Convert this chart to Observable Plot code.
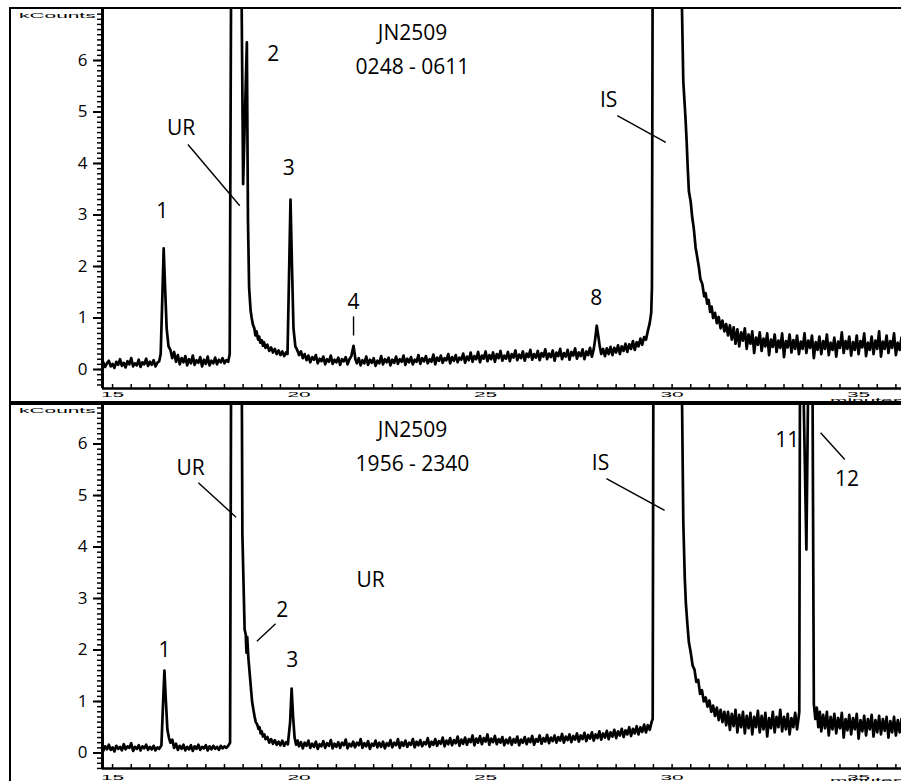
<!DOCTYPE html>
<html><head><meta charset="utf-8">
<script src="https://cdn.jsdelivr.net/npm/d3@7"></script>
<script src="https://cdn.jsdelivr.net/npm/@observablehq/plot@0.6"></script>
<style>
html,body{margin:0;padding:0;background:#fff;overflow:hidden}
#wrap{position:relative;width:901px;height:781px;overflow:hidden;background:#fff}
.panel{position:absolute;left:0}
.box{position:absolute;left:9px;width:900px;border:2px solid #000;box-sizing:border-box;pointer-events:none;z-index:2}
.sq{position:absolute;font-family:"Liberation Sans",Arial,sans-serif;font-size:12px;line-height:12px;white-space:nowrap;transform-origin:0 50%;transform:scale(1.74,0.62);z-index:3;color:#000}
</style></head>
<body>
<div id="wrap">
  <div class="panel" id="top" style="top:0"></div>
  <div class="panel" id="bot" style="top:403px"></div>
  <div class="box" style="top:7px;height:396px"></div>
  <div class="box" style="top:403px;height:400px"></div>
  <span class="sq" style="left:19px;top:10px">kCounts</span>
  <span class="sq" style="left:830px;top:395px">minutes</span>
  <span class="sq" style="left:19px;top:405px">kCounts</span>
  <span class="sq" style="left:830px;top:775px">minutes</span>
</div>
<script>
// ---- axis ticks ----
const xMajor = [15, 20, 25, 30, 35];
const xMinor = [15,15.5,16,16.5,17,17.5,18,18.5,19,19.5,20,20.5,21,21.5,22,22.5,23,23.5,24,24.5,25,25.5,26,26.5,27,27.5,28,28.5,29,29.5,30,30.5,31,31.5,32,32.5,33,33.5,34,34.5,35,35.5,36];
const yMajor = [0, 1, 2, 3, 4, 5, 6];

// ---- chromatogram JN2509 0248 - 0611 : [minutes, kCounts] ----
const topTrace = [
[14.70,0.08],[14.75,0.14],[14.80,0.05],[14.85,0.12],[14.90,0.17],[14.95,0.06],[15.00,0.11],[15.05,0.03],[15.10,0.15],[15.15,0.09],[15.20,0.2],[15.25,0.07],[15.30,0.13],[15.35,0.04],[15.40,0.16],[15.45,0.1],[15.50,0.22],[15.55,0.06],[15.60,0.12],[15.65,0.08],[15.70,0.19],[15.75,0.05],[15.80,0.14],[15.85,0.1],[15.90,0.21],[15.95,0.07],[16.00,0.15],[16.05,0.09],[16.10,0.18],[16.15,0.06],[16.20,0.13],[16.25,0.16],
[16.29,0.3],[16.33,1.3],[16.37,2.35],[16.41,1.55],[16.45,0.8],[16.5,0.45],[16.55,0.38],[16.6,0.22],[16.65,0.34],[16.7,0.15],[16.75,0.28],
[16.80,0.1],[16.85,0.22],[16.90,0.14],[16.95,0.26],[17.00,0.08],[17.05,0.2],[17.10,0.12],[17.15,0.27],[17.20,0.09],[17.25,0.18],[17.30,0.13],[17.35,0.24],[17.40,0.06],[17.45,0.19],[17.50,0.11],[17.55,0.25],[17.60,0.08],[17.65,0.17],[17.70,0.12],[17.75,0.23],[17.80,0.1],[17.85,0.19],[17.90,0.14],[17.95,0.22],[18.00,0.12],[18.05,0.18],[18.10,0.15],[18.14,0.3],
[18.18,8],[18.45,8],[18.5,3.6],[18.6,6.35],[18.63,2.9],[18.66,1.6],[18.7,1.15],[18.73,1.0],[18.76,0.88],[18.8,0.8],[18.83,0.66],[18.86,0.74],[18.9,0.58],[18.93,0.64],[18.96,0.52],[19.0,0.57],[19.03,0.46],[19.06,0.53],[19.1,0.42],[19.15,0.48],[19.2,0.36],[19.25,0.43],[19.3,0.33],[19.35,0.4],[19.4,0.3],[19.45,0.37],[19.5,0.28],[19.55,0.35],[19.6,0.26],[19.65,0.33],[19.69,0.3],
[19.73,1.8],[19.77,3.3],[19.81,2.0],[19.85,0.8],[19.9,0.45],[19.95,0.38],
[20.00,0.28],[20.05,0.35],[20.10,0.22],[20.15,0.3],[20.20,0.18],[20.25,0.27],[20.30,0.14],[20.35,0.24],[20.40,0.19],[20.45,0.28],[20.50,0.12],[20.55,0.21],[20.60,0.16],[20.65,0.25],[20.70,0.1],[20.75,0.2],[20.80,0.15],[20.85,0.27],[20.90,0.11],[20.95,0.19],[21.00,0.14],[21.05,0.23],[21.10,0.09],[21.15,0.2],[21.20,0.16],[21.25,0.24],[21.30,0.1],[21.35,0.2],[21.40,0.26],[21.46,0.46],[21.51,0.2],[21.55,0.12],
[21.60,0.22],[21.65,0.08],[21.70,0.18],[21.75,0.12],[21.80,0.25],[21.85,0.09],[21.90,0.19],[21.95,0.13],[22.00,0.22],[22.05,0.07],[22.10,0.17],[22.15,0.12],[22.20,0.26],[22.25,0.1],[22.30,0.2],[22.35,0.14],[22.40,0.23],[22.45,0.08],[22.50,0.19],[22.55,0.13],[22.60,0.25],[22.65,0.11],[22.70,0.2],[22.75,0.15],[22.80,0.27],[22.85,0.09],[22.90,0.21],[22.95,0.14],
[23.00,0.24],[23.05,0.1],[23.10,0.19],[23.15,0.15],[23.20,0.28],[23.25,0.11],[23.30,0.22],[23.35,0.16],[23.40,0.26],[23.45,0.12],[23.50,0.2],[23.55,0.15],[23.60,0.29],[23.65,0.1],[23.70,0.23],[23.75,0.17],[23.80,0.27],[23.85,0.13],[23.90,0.22],[23.95,0.18],
[24.00,0.3],[24.05,0.12],[24.10,0.24],[24.15,0.17],[24.20,0.28],[24.25,0.14],[24.30,0.23],[24.35,0.19],[24.40,0.31],[24.45,0.13],[24.50,0.25],[24.55,0.18],[24.60,0.33],[24.65,0.15],[24.70,0.26],[24.75,0.2],[24.80,0.34],[24.85,0.14],[24.90,0.27],[24.95,0.21],
[25.00,0.35],[25.05,0.16],[25.10,0.28],[25.15,0.2],[25.20,0.33],[25.25,0.15],[25.30,0.3],[25.35,0.22],[25.40,0.36],[25.45,0.17],[25.50,0.27],[25.55,0.21],[25.60,0.34],[25.65,0.16],[25.70,0.3],[25.75,0.23],[25.80,0.37],[25.85,0.18],[25.90,0.29],[25.95,0.22],
[26.00,0.35],[26.05,0.17],[26.10,0.31],[26.15,0.24],[26.20,0.38],[26.25,0.19],[26.30,0.3],[26.35,0.23],[26.40,0.36],[26.45,0.18],[26.50,0.32],[26.55,0.25],[26.60,0.39],[26.65,0.2],[26.70,0.31],[26.75,0.24],[26.80,0.37],[26.85,0.17],[26.90,0.33],[26.95,0.26],
[27.00,0.4],[27.05,0.2],[27.10,0.32],[27.15,0.25],[27.20,0.38],[27.25,0.19],[27.30,0.34],[27.35,0.27],[27.40,0.41],[27.45,0.21],[27.50,0.33],[27.55,0.26],[27.60,0.39],[27.65,0.2],[27.70,0.35],[27.75,0.28],[27.80,0.42],[27.85,0.25],[27.90,0.4],
[27.94,0.6],[27.98,0.85],[28.02,0.66],[28.06,0.45],[28.10,0.3],[28.15,0.4],[28.20,0.26],[28.25,0.41],[28.30,0.3],[28.35,0.44],[28.40,0.28],[28.45,0.42],[28.50,0.33],[28.55,0.47],[28.60,0.3],[28.65,0.45],[28.70,0.36],[28.75,0.5],[28.80,0.34],[28.85,0.49],[28.90,0.4],[28.95,0.55],
[29.00,0.38],[29.05,0.53],[29.10,0.45],[29.15,0.6],[29.20,0.48],[29.25,0.63],[29.30,0.58],[29.35,0.75],[29.40,0.9],[29.44,1.1],[29.46,1.6],
[29.48,8],[30.24,8],[30.3,5.6],[30.36,4.87],[30.39,4.43],[30.42,3.9],[30.45,3.46],[30.5,3.25],[30.54,2.95],[30.58,2.75],[30.63,2.37],[30.67,2.2],[30.72,1.98],[30.76,1.75],[30.81,1.66],[30.86,1.42],[30.9,1.48],[30.94,1.28],[30.98,1.35],
[31.02,1.12],[31.06,1.22],[31.1,1.0],[31.15,1.1],[31.2,0.9],[31.25,1.02],[31.3,0.8],[31.35,0.95],[31.4,0.74],[31.45,0.88],[31.5,0.66],[31.55,0.86],
[31.6,0.58],[31.65,0.82],[31.7,0.5],[31.75,0.78],[31.8,0.45],[31.85,0.72],[31.9,0.56],[31.95,0.8],
[32.0,0.4],[32.05,0.68],[32.1,0.5],[32.15,0.74],[32.2,0.32],[32.25,0.62],[32.3,0.48],[32.35,0.72],[32.4,0.36],[32.45,0.6],[32.5,0.45],[32.55,0.7],[32.6,0.28],[32.65,0.58],[32.7,0.44],[32.75,0.68],[32.8,0.34],[32.85,0.56],[32.9,0.42],[32.95,0.7],
[33.0,0.24],[33.05,0.55],[33.1,0.43],[33.15,0.68],[33.2,0.33],[33.25,0.57],[33.3,0.4],[33.35,0.66],[33.4,0.3],[33.45,0.54],[33.5,0.4],[33.55,0.7],[33.6,0.32],[33.65,0.56],[33.7,0.42],[33.75,0.66],[33.8,0.22],[33.85,0.53],[33.9,0.38],[33.95,0.64],
[34.0,0.3],[34.05,0.55],[34.1,0.4],[34.15,0.68],[34.2,0.28],[34.25,0.52],[34.3,0.38],[34.35,0.62],[34.4,0.25],[34.45,0.54],[34.5,0.42],[34.55,0.72],[34.6,0.32],[34.65,0.55],[34.7,0.4],[34.75,0.64],[34.8,0.27],[34.85,0.53],[34.9,0.38],[34.95,0.66],
[35.0,0.3],[35.05,0.55],[35.1,0.43],[35.15,0.7],[35.2,0.26],[35.25,0.52],[35.3,0.38],[35.35,0.64],[35.4,0.3],[35.45,0.56],[35.5,0.4],[35.55,0.74],[35.6,0.25],[35.65,0.54],[35.7,0.4],[35.75,0.66],[35.8,0.32],[35.85,0.55],[35.9,0.42],[35.95,0.7],
[36.0,0.28],[36.05,0.52],[36.1,0.38],[36.15,0.62],[36.2,0.45]
];

// ---- chromatogram JN2509 1956 - 2340 : [minutes, kCounts] ----
const bottomTrace = [
[14.70,0.1],[14.75,0.04],[14.80,0.13],[14.85,0.07],[14.90,0.16],[14.95,0.06],[15.00,0.11],[15.05,0.03],[15.10,0.14],[15.15,0.08],[15.20,0.12],[15.25,0.05],[15.30,0.17],[15.35,0.07],[15.40,0.13],[15.45,0.1],[15.50,0.19],[15.55,0.04],[15.60,0.12],[15.65,0.08],[15.70,0.15],[15.75,0.05],[15.80,0.13],[15.85,0.09],[15.90,0.16],[15.95,0.06],[16.00,0.12],[16.05,0.07],[16.10,0.14],[16.15,0.05],[16.20,0.11],[16.25,0.08],[16.31,0.15],
[16.35,0.9],[16.39,1.6],[16.43,1.0],[16.47,0.45],[16.51,0.3],[16.55,0.2],[16.6,0.26],[16.65,0.1],[16.7,0.18],[16.75,0.06],
[16.80,0.14],[16.85,0.08],[16.90,0.16],[16.95,0.05],[17.00,0.12],[17.05,0.07],[17.10,0.15],[17.15,0.04],[17.20,0.13],[17.25,0.08],[17.30,0.16],[17.35,0.06],[17.40,0.12],[17.45,0.09],[17.50,0.15],[17.55,0.05],[17.60,0.13],[17.65,0.07],[17.70,0.14],[17.75,0.08],[17.80,0.12],[17.85,0.06],[17.90,0.14],[17.95,0.09],[18.00,0.13],[18.05,0.1],[18.10,0.14],[18.15,0.2],
[18.18,8],[18.46,8],[18.48,4.25],[18.54,2.4],[18.57,2.3],[18.59,1.95],[18.61,2.25],[18.64,1.85],[18.7,1.34],[18.74,1.0],[18.78,0.82],[18.81,0.7],[18.84,0.6],[18.88,0.55],[18.91,0.47],[18.94,0.5],[18.97,0.38],[19.0,0.42],[19.03,0.32],[19.07,0.36],[19.1,0.27],[19.15,0.31],[19.2,0.2],[19.25,0.27],[19.3,0.18],[19.35,0.25],[19.4,0.16],[19.45,0.22],[19.5,0.15],[19.55,0.24],[19.6,0.14],[19.65,0.21],[19.7,0.17],
[19.76,0.6],[19.8,1.25],[19.84,0.7],[19.88,0.3],[19.92,0.16],[19.96,0.24],
[20.00,0.13],[20.05,0.21],[20.10,0.09],[20.15,0.2],[20.20,0.14],[20.25,0.24],[20.30,0.1],[20.35,0.18],[20.40,0.12],[20.45,0.22],[20.50,0.08],[20.55,0.17],[20.60,0.13],[20.65,0.23],[20.70,0.1],[20.75,0.19],[20.80,0.14],[20.85,0.25],[20.90,0.09],[20.95,0.18],
[21.00,0.12],[21.05,0.21],[21.10,0.1],[21.15,0.2],[21.20,0.15],[21.25,0.26],[21.30,0.09],[21.35,0.18],[21.40,0.13],[21.45,0.22],[21.50,0.11],[21.55,0.2],[21.60,0.15],[21.65,0.27],[21.70,0.1],[21.75,0.19],[21.80,0.13],[21.85,0.23],[21.90,0.08],[21.95,0.18],
[22.00,0.14],[22.05,0.24],[22.10,0.11],[22.15,0.2],[22.20,0.12],[22.25,0.22],[22.30,0.09],[22.35,0.19],[22.40,0.14],[22.45,0.25],[22.50,0.11],[22.55,0.2],[22.60,0.15],[22.65,0.27],[22.70,0.1],[22.75,0.21],[22.80,0.14],[22.85,0.24],[22.90,0.12],[22.95,0.2],
[23.00,0.16],[23.05,0.27],[23.10,0.11],[23.15,0.22],[23.20,0.15],[23.25,0.25],[23.30,0.13],[23.35,0.21],[23.40,0.17],[23.45,0.29],[23.50,0.12],[23.55,0.22],[23.60,0.16],[23.65,0.27],[23.70,0.14],[23.75,0.23],[23.80,0.18],[23.85,0.3],[23.90,0.13],[23.95,0.24],
[24.00,0.17],[24.05,0.29],[24.10,0.15],[24.15,0.25],[24.20,0.19],[24.25,0.32],[24.30,0.14],[24.35,0.26],[24.40,0.18],[24.45,0.3],[24.50,0.16],[24.55,0.27],[24.60,0.21],[24.65,0.34],[24.70,0.15],[24.75,0.28],[24.80,0.2],[24.85,0.33],[24.90,0.17],[24.95,0.29],
[25.00,0.22],[25.05,0.36],[25.10,0.16],[25.15,0.28],[25.20,0.21],[25.25,0.33],[25.30,0.17],[25.35,0.27],[25.40,0.2],[25.45,0.31],[25.50,0.15],[25.55,0.26],[25.60,0.19],[25.65,0.3],[25.70,0.16],[25.75,0.27],[25.80,0.2],[25.85,0.32],[25.90,0.15],[25.95,0.26],
[26.00,0.2],[26.05,0.31],[26.10,0.17],[26.15,0.28],[26.20,0.21],[26.25,0.33],[26.30,0.16],[26.35,0.27],[26.40,0.22],[26.45,0.34],[26.50,0.18],[26.55,0.29],[26.60,0.22],[26.65,0.35],[26.70,0.19],[26.75,0.3],[26.80,0.23],[26.85,0.34],[26.90,0.2],[26.95,0.31],
[27.00,0.24],[27.05,0.37],[27.10,0.2],[27.15,0.32],[27.20,0.25],[27.25,0.36],[27.30,0.21],[27.35,0.33],[27.40,0.26],[27.45,0.38],[27.50,0.22],[27.55,0.34],[27.60,0.27],[27.65,0.39],[27.70,0.23],[27.75,0.35],[27.80,0.28],[27.85,0.4],[27.90,0.24],[27.95,0.36],
[28.00,0.29],[28.05,0.42],[28.10,0.26],[28.15,0.38],[28.20,0.3],[28.25,0.43],[28.30,0.27],[28.35,0.4],[28.40,0.32],[28.45,0.45],[28.50,0.29],[28.55,0.42],[28.60,0.34],[28.65,0.47],[28.70,0.31],[28.75,0.44],[28.80,0.36],[28.85,0.5],[28.90,0.33],[28.95,0.47],
[29.00,0.38],[29.05,0.52],[29.10,0.36],[29.15,0.5],[29.20,0.41],[29.25,0.55],[29.30,0.4],[29.35,0.54],[29.40,0.45],[29.45,0.6],[29.48,0.66],
[29.5,8],[30.25,8],[30.3,4.5],[30.34,3.4],[30.37,2.9],[30.41,2.5],[30.45,2.15],[30.5,1.95],[30.55,1.7],[30.6,1.62],[30.65,1.38],[30.7,1.42],[30.75,1.15],[30.8,1.22],[30.85,1.0],[30.9,1.08],[30.95,0.9],
[31.0,1.02],[31.05,0.8],[31.1,0.92],[31.15,0.72],[31.2,0.88],[31.25,0.64],[31.3,0.84],[31.35,0.6],[31.4,0.8],[31.45,0.54],
[31.5,0.8],[31.55,0.45],[31.6,0.76],[31.65,0.52],[31.7,0.84],[31.75,0.4],[31.8,0.74],[31.85,0.5],[31.9,0.8],[31.95,0.38],
[32.0,0.72],[32.05,0.48],[32.1,0.78],[32.15,0.36],[32.2,0.7],[32.25,0.5],[32.3,0.82],[32.35,0.4],[32.4,0.72],[32.45,0.46],[32.5,0.78],[32.55,0.32],[32.6,0.68],[32.65,0.48],[32.7,0.8],[32.75,0.4],[32.8,0.7],[32.85,0.5],[32.9,0.84],[32.95,0.42],
[33.0,0.7],[33.05,0.46],[33.1,0.76],[33.15,0.36],[33.2,0.68],[33.25,0.5],[33.3,0.78],[33.35,0.46],[33.39,0.68],[33.41,0.8],
[33.43,8],[33.5,8],[33.6,3.95],[33.66,8],[33.76,8],[33.8,0.95],[33.84,0.66],[33.88,0.88],[33.92,0.5],[33.96,0.8],
[34.0,0.42],[34.05,0.74],[34.1,0.48],[34.15,0.8],[34.2,0.34],[34.25,0.7],[34.3,0.46],[34.35,0.76],[34.4,0.38],[34.45,0.68],[34.5,0.48],[34.55,0.78],[34.6,0.3],[34.65,0.66],[34.7,0.44],[34.75,0.74],[34.8,0.36],[34.85,0.68],[34.9,0.46],[34.95,0.76],
[35.0,0.28],[35.05,0.64],[35.1,0.42],[35.15,0.72],[35.2,0.34],[35.25,0.66],[35.3,0.46],[35.35,0.74],[35.4,0.32],[35.45,0.64],[35.5,0.4],[35.55,0.72],[35.6,0.36],[35.65,0.66],[35.7,0.43],[35.75,0.7],[35.8,0.3],[35.85,0.62],[35.9,0.4],[35.95,0.7],
[36.0,0.34],[36.05,0.64],[36.1,0.4],[36.15,0.66],[36.2,0.5]
];

// ---- annotations (data units) ----
const topLabels = [
  {label: "JN2509", t: 23.04, v: 6.52},
  {label: "0248 - 0611", t: 23.04, v: 5.86},
  {label: "2", t: 19.31, v: 6.13},
  {label: "UR", t: 16.84, v: 4.68},
  {label: "3", t: 19.72, v: 3.9},
  {label: "1", t: 16.33, v: 3.07},
  {label: "4", t: 21.46, v: 1.3},
  {label: "8", t: 27.97, v: 1.38},
  {label: "IS", t: 28.3, v: 5.22}
];
const topLeaders = [
  {t1: 17.02, v1: 4.37, t2: 18.41, v2: 3.18},
  {t1: 21.46, v1: 1.03, t2: 21.46, v2: 0.66},
  {t1: 28.53, v1: 4.93, t2: 29.83, v2: 4.41}
];
const bottomLabels = [
  {label: "JN2509", t: 23.04, v: 6.26},
  {label: "1956 - 2340", t: 23.04, v: 5.6},
  {label: "UR", t: 17.09, v: 5.52},
  {label: "UR", t: 21.92, v: 3.35},
  {label: "2", t: 19.55, v: 2.77},
  {label: "1", t: 16.39, v: 1.99},
  {label: "3", t: 19.82, v: 1.8},
  {label: "IS", t: 28.08, v: 5.62},
  {label: "11", t: 33.09, v: 6.07},
  {label: "12", t: 34.69, v: 5.32}
];
const bottomLeaders = [
  {t1: 17.3, v1: 5.25, t2: 18.31, v2: 4.58},
  {t1: 19.37, v1: 2.51, t2: 18.87, v2: 2.17},
  {t1: 28.24, v1: 5.33, t2: 29.8, v2: 4.71},
  {t1: 33.98, v1: 6.22, t2: 34.63, v2: 5.7}
];

const xDomain = [14.73, 36.15];

function squashTicks(svg, sx, sy) {
  svg.querySelectorAll('g[aria-label="x-axis tick label"] text').forEach(t => {
    t.setAttribute("font-family", "'Liberation Sans', Arial, sans-serif");
    t.setAttribute("font-size", "12");
    let tr = t.getAttribute("transform") || "";
    const xa = t.getAttribute("x");
    if (xa && !/em/.test(xa)) { tr += ` translate(${xa},0)`; t.removeAttribute("x"); }
    const ya = t.getAttribute("y");
    if (ya && !/em/.test(ya)) { tr += ` translate(0,${ya})`; t.removeAttribute("y"); }
    t.setAttribute("transform", tr + ` scale(${sx},${sy})`);
  });
}

function panel(trace, labels, leaders, yDomain, h, mt, mb, pad) {
  const yMinor = d3.range(-5, 71).map(i => i / 10).filter(v => v >= yDomain[0] && v <= yDomain[1]);
  const innerH = h - mt - mb;
  const svg = Plot.plot({
    width: 901, height: h,
    marginLeft: 102, marginRight: 0, marginTop: mt, marginBottom: mb,
    style: {background: "transparent", fontFamily: "'Open Sans', sans-serif", fontSize: "17px", color: "#000", overflow: "visible"},
    x: {domain: xDomain},
    y: {domain: yDomain},
    marks: [
      Plot.line(trace, {x: d => d[0], y: d => d[1], stroke: "#000", strokeWidth: 2.7, strokeLinejoin: "round", clip: true}),
      Plot.link(leaders, {x1: "t1", y1: "v1", x2: "t2", y2: "v2", stroke: "#000", strokeWidth: 1.4}),
      Plot.text(labels, {x: "t", y: "v", text: "label", fontSize: 21, fill: "#000"}),
      Plot.axisY({ticks: yMinor, tickSize: 5, tickFormat: () => "", strokeWidth: 1.5, label: null}),
      Plot.axisY({ticks: yMajor, tickSize: 9, tickPadding: 6, strokeWidth: 2, fontSize: 17, tickFormat: d => String(d), label: null}),
      Plot.tickX(xMinor, {x: d => d, insetTop: innerH - 4, stroke: "#000", strokeWidth: 1.5}),
      Plot.axisX({ticks: xMajor, tickSize: 0, tickPadding: pad, tickFormat: d => String(d), label: null}),
      Plot.ruleX([xDomain[0]], {stroke: "#000", strokeWidth: 3}),
      Plot.ruleY([yDomain[0]], {stroke: "#000", strokeWidth: 2.5})
    ]
  });
  squashTicks(svg, 1.74, 0.66);
  return svg;
}

document.getElementById("top").appendChild(
  panel(topTrace, topLabels, topLeaders, [-0.369, 6.99], 402, 9, 14, 3));
document.getElementById("bot").appendChild(
  panel(bottomTrace, bottomLabels, bottomLeaders, [-0.301, 6.748], 378, 2, 13, 6));
</script>
</body></html>
